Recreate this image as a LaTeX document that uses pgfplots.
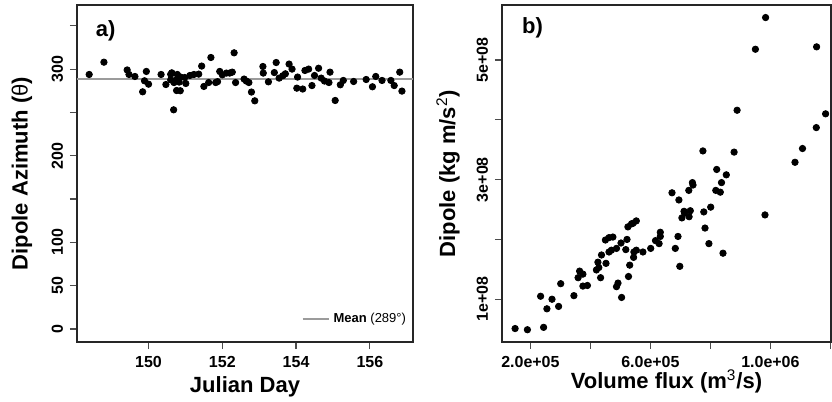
\documentclass[border=0pt]{standalone}
\usepackage{fontspec}
\setmainfont{Liberation Sans}
\usepackage{pgfplots}
\pgfplotsset{compat=1.18}

\definecolor{meangray}{RGB}{155,155,155}

\pgfplotsset{
  rpanel/.style={
    scale only axis,
    axis line style={line width=0.75pt, black!85},
    tick align=outside,
    tick pos=left,
    major tick length=3.5pt,
    every tick/.style={line width=0.6pt, black!70},
    /pgf/number format/assume math mode=true,
    tick label style={font=\fontsize{8}{9}\selectfont\bfseries},
    yticklabel style={rotate=90, anchor=south},
    label style={font=\fontsize{11}{13}\selectfont\bfseries},
    scaled ticks=false,
  },
  dots/.style={only marks, mark=*, mark size=1.6pt,
    mark options={draw=black, fill=black}},
}

\begin{document}
\begin{tikzpicture}
\path[use as bounding box] (0pt,0pt) rectangle (416pt,201pt);

% a) azimuth against day
\begin{axis}[rpanel,
  at={(38.5pt,30pt)}, anchor=south west,
  width=168pt, height=168.5pt,
  xmin=148.06, xmax=157.17,
  ymin=-15, ymax=374,
  xtick={150,152,154,156},
  ytick={0,50,100,150,200,250,300,350},
  yticklabels={0,50,100,,200,,300,},
  xlabel={Julian Day},
  ylabel={Dipole Azimuth ({\mdseries θ})},
  x label style={at={(axis description cs:0.5,-0.151)}, anchor=base},
  y label style={at={(axis description cs:-0.164,0.5)}, anchor=center, rotate=0},
  legend style={at={(rel axis cs:1.01,0.025)}, anchor=south east,
    draw=none, fill=none, font=\fontsize{6.5}{7}\selectfont},
  legend image code/.code={\draw[#1] (0pt,0pt) -- (13pt,0pt);},
]
\addplot[meangray, line width=1pt] coordinates {(148.06,289) (157.17,289)};
\addlegendentry{\textbf{Mean} (289°)}
\addplot[dots, forget plot] coordinates {
(148.39,293.8) (148.79,308) (149.42,299) (149.47,293.8) (149.63,291.5)
(149.84,273.8) (149.89,286.5) (149.94,297.3) (150.00,282.6) (150.34,293.8)
(150.47,282.2) (150.60,294) (150.60,287.6) (150.63,295.7) (150.68,253)
(150.69,284.5) (150.75,287.6) (150.78,293.8) (150.83,285) (150.87,290.8)
(150.98,290.3) (151.01,283.4) (150.76,275.3) (150.86,275) (151.12,292.6)
(151.23,293.8) (151.36,294.2) (151.44,303.5) (151.50,280) (151.63,284.5)
(151.69,313.4) (151.82,284.5) (151.87,285.5) (151.93,297.3) (152.00,293.4)
(152.11,295.4) (152.20,295.4) (152.27,296.5) (152.32,318.8) (152.36,284.5)
(152.59,288.5) (152.65,286.2) (152.72,284.5) (152.79,273.5) (152.88,263.4)
(153.10,303) (153.11,295.4) (153.25,285.3) (153.41,296) (153.46,307.6)
(153.54,289.6) (153.64,292.3) (153.71,294.6) (153.81,305.8) (153.89,300)
(154.04,290.8) (154.02,278) (154.18,277) (154.24,298.4) (154.34,300)
(154.43,281) (154.50,292.6) (154.61,301) (154.68,289.6) (154.77,286.2)
(154.89,284.5) (154.92,296.5) (155.06,263.8) (155.20,281.9) (155.28,286.9)
(155.56,285.7) (155.90,288) (156.07,279.6) (156.16,291.5) (156.33,286.9)
(156.57,286.9) (156.66,281) (156.81,296.5) (156.87,274.6)
};
\node[anchor=west, font=\fontsize{11}{13}\selectfont\bfseries]
  at (rel axis cs:0.035,0.923) {a)};
\end{axis}

% b) dipole against volume flux
\begin{axis}[rpanel,
  at={(251pt,30pt)}, anchor=south west,
  width=164.5pt, height=168.5pt,
  xmin=1.053e5, xmax=1.202e6,
  ymin=0.285e8, ymax=5.92e8,
  xtick={2e5,4e5,6e5,8e5,1e6,1.2e6},
  xticklabels={2.0e+05,,6.0e+05,,1.0e+06,},
  ytick={1e8,2e8,3e8,4e8,5e8},
  yticklabels={1e+08,,3e+08,,5e+08},
  xlabel={Volume flux (m\textsuperscript{\mdseries 3}/s)},
  ylabel={Dipole (kg m/s\textsuperscript{\mdseries 2})},
  x label style={at={(axis description cs:0.5,-0.137)}, anchor=base},
  y label style={at={(axis description cs:-0.164,0.5)}, anchor=center, rotate=0},
]
\addplot[dots] coordinates {
(1.49e5,0.51e8) (1.90e5,0.49e8) (2.44e5,0.53e8) (2.34e5,1.05e8) (2.55e5,0.84e8)
(2.72e5,1.00e8) (2.94e5,0.88e8) (3.01e5,1.26e8) (3.45e5,1.06e8) (3.59e5,1.36e8)
(3.64e5,1.47e8) (3.75e5,1.42e8) (3.75e5,1.22e8) (3.90e5,1.23e8) (4.20e5,1.49e8)
(4.25e5,1.62e8) (4.28e5,1.53e8) (4.34e5,1.36e8) (4.37e5,1.74e8) (4.52e5,1.60e8)
(4.50e5,1.99e8) (4.62e5,2.03e8) (4.75e5,2.04e8) (4.62e5,1.79e8) (4.70e5,1.82e8)
(4.87e5,1.85e8) (5.02e5,1.94e8) (5.22e5,2.00e8) (5.18e5,1.83e8) (5.45e5,1.79e8)
(5.53e5,1.82e8) (5.25e5,2.21e8) (5.37e5,2.26e8) (5.42e5,2.27e8) (5.53e5,2.31e8)
(4.92e5,1.27e8) (4.87e5,1.21e8) (5.04e5,1.03e8) (5.27e5,1.38e8) (5.31e5,1.57e8)
(5.44e5,1.70e8) (5.75e5,1.79e8) (6.01e5,1.85e8) (6.17e5,1.98e8) (6.29e5,1.93e8)
(6.33e5,2.05e8) (6.33e5,2.12e8) (6.72e5,2.78e8) (6.83e5,1.85e8) (6.92e5,2.05e8)
(6.95e5,2.66e8) (6.98e5,1.55e8) (7.05e5,2.36e8) (7.12e5,2.47e8) (7.14e5,2.44e8)
(7.28e5,2.82e8) (7.29e5,2.38e8) (7.33e5,2.48e8) (7.40e5,2.95e8) (7.42e5,2.91e8)
(7.75e5,3.48e8) (7.78e5,2.46e8) (7.82e5,2.19e8) (7.95e5,1.93e8) (8.01e5,2.54e8)
(8.18e5,2.82e8) (8.21e5,3.17e8) (8.33e5,2.79e8) (8.37e5,2.95e8) (8.42e5,1.77e8)
(8.53e5,3.08e8) (8.79e5,3.46e8) (8.89e5,4.16e8) (9.50e5,5.18e8) (9.84e5,5.71e8)
(9.82e5,2.41e8) (1.082e6,3.29e8) (1.107e6,3.52e8) (1.153e6,3.87e8) (1.154e6,5.22e8)
(1.184e6,4.10e8)
};
\node[anchor=west, font=\fontsize{11}{13}\selectfont\bfseries]
  at (rel axis cs:0.04,0.932) {b)};
\end{axis}
\end{tikzpicture}
\end{document}
